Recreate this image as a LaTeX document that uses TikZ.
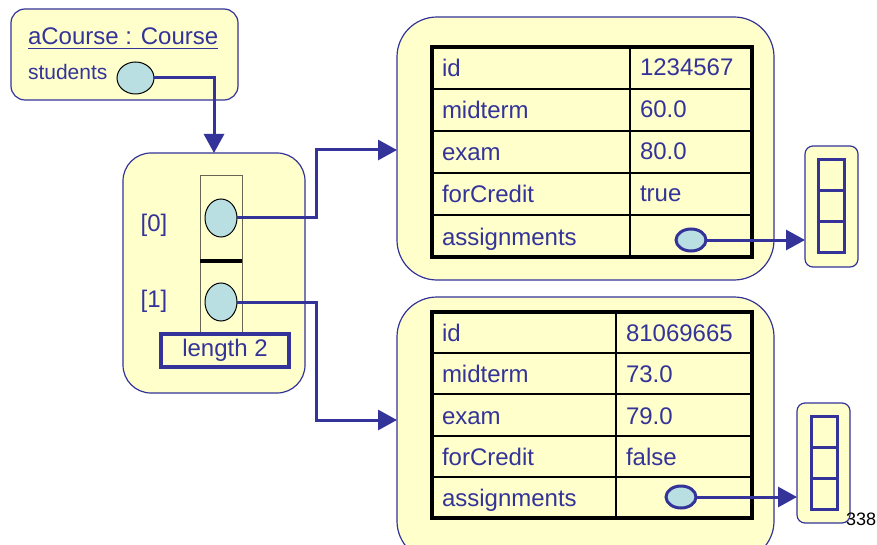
\documentclass[tikz,border=0pt]{standalone}
\usepackage{fontspec}
\setmainfont{Liberation Sans}
\usepackage{xcolor}
\usetikzlibrary{arrows.meta,positioning,shapes.geometric}
\definecolor{boxfill}{RGB}{255,255,204}
\definecolor{navy}{RGB}{51,51,153}
\definecolor{reffill}{RGB}{185,223,227}

\begin{document}
\begin{tikzpicture}[x=0.5pt, y=-0.5pt,
  every node/.style={inner sep=0pt, outer sep=0pt, text=navy, font=\fontsize{12}{14}\selectfont},
  objbox/.style={draw=navy, line width=0.6pt, fill=boxfill, rounded corners=20pt},
  cell/.style={draw=black, line width=1pt, fill=boxfill, minimum height=21pt, inner xsep=5pt, align=left, text height=10.5pt, text depth=1.5pt},
  lab1/.style={cell, text width=89pt},
  val1/.style={cell, text width=51pt, text height=9.75pt, text depth=2.25pt},
  lab2/.style={cell, text width=82pt, minimum height=20.6pt},
  val2/.style={cell, text width=58pt, minimum height=20.6pt},
  ref/.style={ellipse, draw=black, line width=0.5pt, fill=reffill},
  aref/.style={ellipse, draw=navy, line width=1.5pt, fill=reffill, minimum width=15pt, minimum height=11pt},
  link/.style={draw=navy, line width=1.5pt, -{Triangle[length=9.5pt,width=10pt]}},
  slot/.style={draw=navy, line width=1.5pt, minimum width=13pt, minimum height=15.33pt}
]
\useasboundingbox (0,0) rectangle (877,545);
\clip (0,0) rectangle (877,545);

% course object
\node[objbox, rounded corners=7pt, minimum width=113.5pt, minimum height=45.5pt] (course) at (124.5,54.5) {};
\node[anchor=base west] (title) at (28,45) {\underline{aCourse : Course}};
\node[anchor=base west, font=\fontsize{10.5}{12}\selectfont] (stlab) at (28,80) {students};
\node[ref, minimum width=18.5pt, minimum height=16pt] (stu) at (135.5,78) {};

% array of students
\node[objbox, rounded corners=14pt, minimum width=91pt, minimum height=120pt] (arr) at (214,273) {};
\node[draw=black!60!boxfill, line width=0.5pt, minimum width=21pt, minimum height=78.5pt] (col) at (221,254.5) {};
\draw[black, line width=2pt] (200,261) -- (242,261);
\node[ref, minimum width=16pt, minimum height=19pt] (e0) at (221,218) {};
\node[ref, minimum width=16pt, minimum height=19pt] (e1) at (221,302) {};
\node (i0) at (154,225) {[0]};
\node (i1) at (154,301) {[1]};
\node[draw=navy, line width=2pt, fill=boxfill, minimum width=64pt, minimum height=16.5pt] (len) at (225,350.5) {length 2};

% student 1
\node[objbox, minimum width=188.5pt, minimum height=131.5pt] (obj1) at (585.5,148.5) {};
\node[lab1] (id1) at (531,68) {id};
\node[val1] (id1v) at (691,68) {1234567};
\node[lab1] (mt1) at (531,110) {midterm};
\node[val1] (mt1v) at (691,110) {60.0};
\node[lab1] (ex1) at (531,152) {exam};
\node[val1] (ex1v) at (691,152) {80.0};
\node[lab1] (fc1) at (531,194) {forCredit};
\node[val1] (fc1v) at (691,194) {true};
\node[lab1] (as1) at (531,236) {assignments};
\node[val1] (as1v) at (691,236) {};
\draw[black, line width=2pt] (id1.north west) rectangle (as1v.south east);
\node[aref] (ea1) at (691,240) {};

\node[objbox, rounded corners=4pt, minimum width=26.5pt, minimum height=60.5pt] (sb1) at (831.5,206.5) {};
\node[slot] (s11) at (831,175.3) {};
\node[slot] (s12) at (831,206) {};
\node[slot] (s13) at (831,236.7) {};

% student 2
\node[objbox, minimum width=188.5pt, minimum height=132pt] (obj2) at (585.5,429) {};
\node[lab2] (id2) at (524,332.6) {id};
\node[val2] (id2v) at (684,332.6) {81069665};
\node[lab2] (mt2) at (524,373.8) {midterm};
\node[val2] (mt2v) at (684,373.8) {73.0};
\node[lab2] (ex2) at (524,415) {exam};
\node[val2] (ex2v) at (684,415) {79.0};
\node[lab2] (fc2) at (524,456.2) {forCredit};
\node[val2] (fc2v) at (684,456.2) {false};
\node[lab2] (as2) at (524,497.4) {assignments};
\node[val2] (as2v) at (684,497.4) {};
\draw[black, line width=2pt] (id2.north west) rectangle (as2v.south east);
\node[aref] (ea2) at (681,497) {};

\node[objbox, rounded corners=4pt, minimum width=26.5pt, minimum height=60pt] (sb2) at (823.5,463) {};
\node[slot] (s21) at (824,432.3) {};
\node[slot] (s22) at (824,463) {};
\node[slot] (s23) at (824,493.7) {};

% references
\coordinate (j0) at (316,150);
\coordinate (j1) at (316,420);
\draw[link] (stu.east) -| (arr.north);
\draw[link] (e0.east) -| (j0) -- (j0 -| obj1.west);
\draw[link] (e1.east) -| (j1) -- (j1 -| obj2.west);
\draw[link] (ea1.east) -- (ea1.east -| sb1.west);
\draw[link] (ea2.east) -- (ea2.east -| sb2.west);

\node[anchor=west, text=black, font=\fontsize{9}{10}\selectfont] (pg) at (846,519) {338};
\end{tikzpicture}
\end{document}
